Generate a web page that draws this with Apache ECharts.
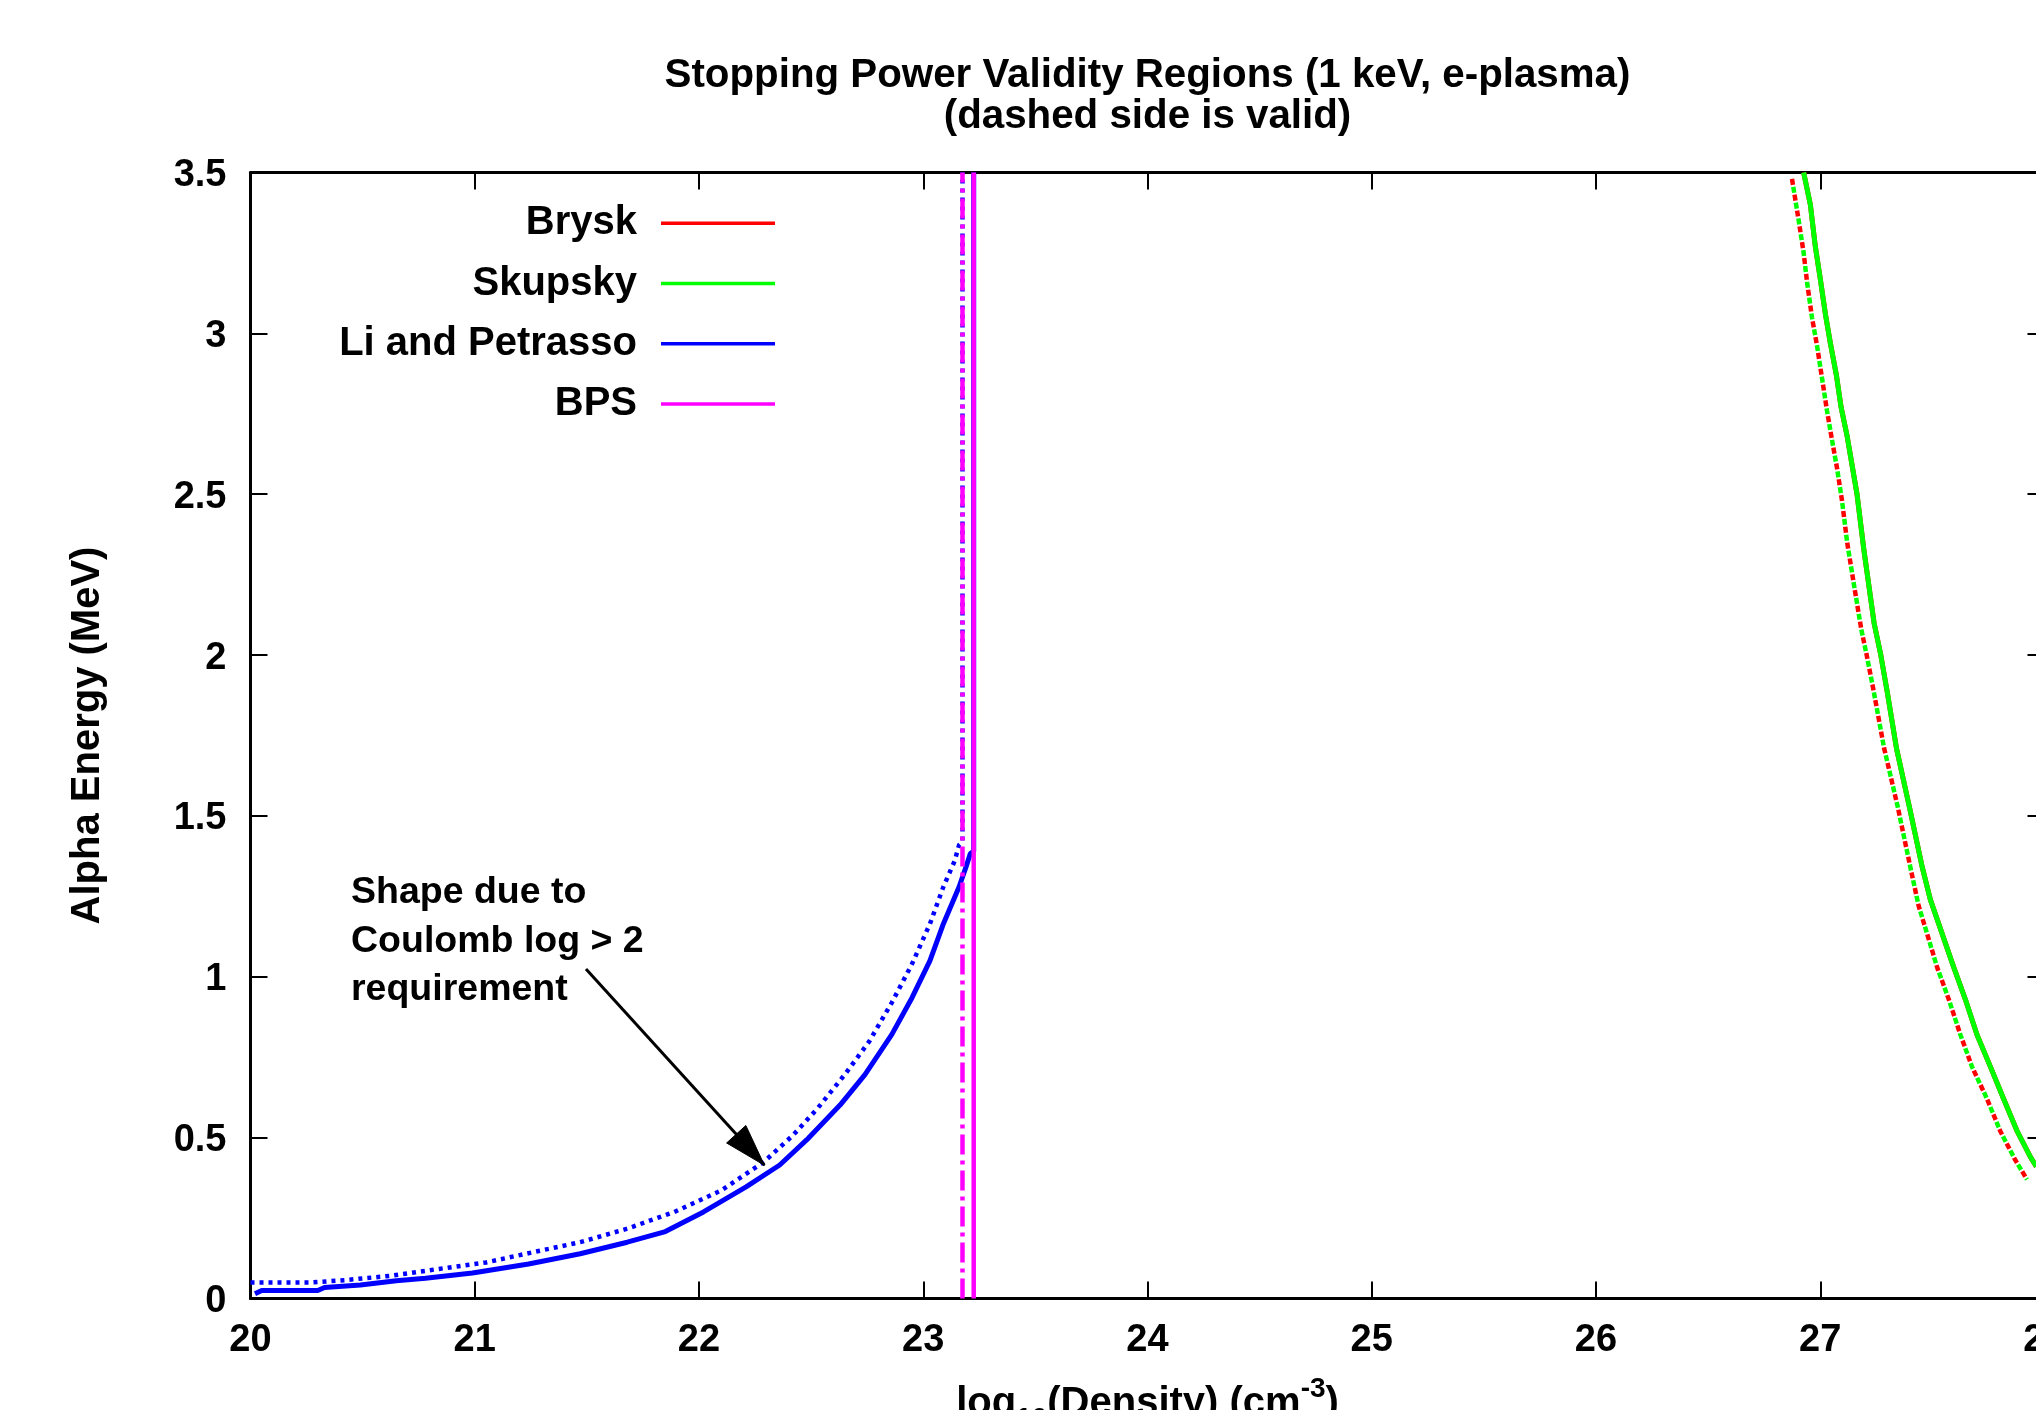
<!DOCTYPE html>
<html>
<head>
<meta charset="utf-8">
<script src="https://cdn.jsdelivr.net/npm/echarts@6/dist/echarts.min.js"></script>
<style>
html,body{margin:0;padding:0;background:#ffffff;}
#chart{width:2036px;height:1410px;}
</style>
</head>
<body>
<div id="chart"></div>
<script>
// ---------------- data ----------------
const legendNames = ['Brysk', 'Skupsky', 'Li and Petrasso', 'BPS'];

// x axis: log10(density), y axis: alpha energy (MeV)
const xMin = 20, xMax = 28, xStep = 1;
const yMin = 0, yMax = 3.5, yStep = 0.5;

// Brysk and Skupsky boundaries coincide (Skupsky drawn on top)
const bryskSkupskyEdge = [
  [26.926, 3.50], [26.956, 3.40], [26.978, 3.27], [27.000, 3.17], [27.023, 3.06],
  [27.045, 2.97], [27.072, 2.87], [27.093, 2.77], [27.120, 2.68], [27.142, 2.59],
  [27.164, 2.50], [27.194, 2.33], [27.240, 2.10], [27.270, 2.00], [27.300, 1.88],
  [27.340, 1.71], [27.400, 1.52], [27.455, 1.34], [27.491, 1.24], [27.543, 1.135],
  [27.595, 1.03], [27.647, 0.93], [27.699, 0.82], [27.759, 0.72], [27.818, 0.62],
  [27.878, 0.52], [27.937, 0.44], [27.964, 0.41]
];
const bryskSkupskyValid = [
  [26.874, 3.48], [26.904, 3.35], [26.926, 3.25], [26.941, 3.16], [26.963, 3.05],
  [26.986, 2.96], [27.008, 2.86], [27.030, 2.76], [27.052, 2.67], [27.075, 2.58],
  [27.097, 2.48], [27.120, 2.35], [27.150, 2.22], [27.183, 2.08], [27.207, 2.00],
  [27.235, 1.90], [27.285, 1.71], [27.345, 1.53], [27.405, 1.33], [27.439, 1.22],
  [27.476, 1.135], [27.521, 1.03], [27.573, 0.93], [27.625, 0.82], [27.677, 0.72],
  [27.744, 0.62], [27.803, 0.52], [27.870, 0.43], [27.922, 0.37]
];

const liPetrassoEdge = [
  [20.02, 0.015], [20.05, 0.025], [20.30, 0.025], [20.33, 0.034], [20.49, 0.042],
  [20.65, 0.055], [20.78, 0.063], [20.99, 0.079], [21.24, 0.107], [21.47, 0.139],
  [21.68, 0.175], [21.85, 0.208], [22.02, 0.269], [22.21, 0.347], [22.36, 0.415],
  [22.48, 0.493], [22.63, 0.602], [22.74, 0.696], [22.86, 0.821], [22.95, 0.935],
  [23.03, 1.05], [23.09, 1.165], [23.16, 1.28], [23.19, 1.34], [23.21, 1.383],
  [23.225, 1.39], [23.225, 3.50]
];
const liPetrassoValid = [
  [20.00, 0.050], [20.27, 0.050], [20.42, 0.057], [20.63, 0.071], [20.84, 0.092],
  [21.05, 0.112], [21.26, 0.144], [21.47, 0.175], [21.68, 0.217], [21.89, 0.269],
  [22.10, 0.336], [22.29, 0.425], [22.42, 0.508], [22.53, 0.592], [22.65, 0.696],
  [22.76, 0.800], [22.86, 0.920], [22.95, 1.040], [23.03, 1.165], [23.09, 1.280],
  [23.14, 1.360], [23.16, 1.410], [23.175, 1.42], [23.175, 3.50]
];

const bpsEdge = [[23.225, 0.0], [23.225, 3.5]];
const bpsValid = [[23.175, 0.0], [23.175, 3.5]];

// annotation arrow (data coordinates)
const arrowFrom = [21.496, 1.024];
const arrowTo = [22.292, 0.414];
const noteText = 'Shape due to\nCoulomb log > 2\nrequirement';

const titleText = 'Stopping Power Validity Regions (1 keV, e-plasma)\n(dashed side is valid)';
const xName = 'log{sub|10}(Density) (cm{sup|-3})';
const yName = 'Alpha Energy (MeV)';

// ---------------- styles ----------------
const FONT = "'Liberation Sans', Arial, Helvetica, sans-serif";
const RED = '#ff0000', GREEN = '#00ff00', BLUE = '#0000ff', MAGENTA = '#ff00ff';

function lineSeries(name, data, color, width, type, extra) {
  return Object.assign({
    name: name,
    type: 'line',
    data: data,
    showSymbol: false,
    symbol: 'none',
    color: color,
    itemStyle: { color: color },
    lineStyle: { color: color, width: width, type: type },
    silent: true,
    clip: true,
    animation: false
  }, extra || {});
}

const axisLineStyle = { show: true, onZero: false, lineStyle: { color: '#000', width: 3 } };
const axisTickStyle = { show: true, inside: true, length: 17, lineStyle: { color: '#000', width: 2 } };

const chart = echarts.init(document.getElementById('chart'), null, { renderer: 'canvas' });

const noteGraphic = {
  id: 'note', type: 'text', x: 351, y: 868.5, silent: true,
  style: {
    text: noteText, fill: '#000', fontFamily: FONT, fontSize: 37.5, fontWeight: 'bold',
    lineHeight: 48.6, align: 'left', verticalAlign: 'top'
  }
};

const option = {
  animation: false,
  backgroundColor: '#ffffff',
  textStyle: { fontFamily: FONT },
  title: {
    text: titleText,
    left: 1147.5,
    top: 55.5,
    padding: 0,
    textAlign: 'center',
    textVerticalAlign: 'top',
    textStyle: { fontFamily: FONT, fontSize: 40.3, fontWeight: 'bold', color: '#000', lineHeight: 41 }
  },
  legend: {
    data: legendNames,
    orient: 'vertical',
    align: 'right',
    left: 337,
    top: 203.2,
    padding: 0,
    itemGap: 20.3,
    itemWidth: 114,
    itemHeight: 3.5,
    icon: 'rect',
    selectedMode: false,
    itemStyle: { borderWidth: 0 },
    textStyle: {
      fontFamily: FONT, fontSize: 40, fontWeight: 'bold', color: '#000',
      lineHeight: 40, width: 300, padding: [0, 19, 0, 0]
    }
  },
  grid: {
    left: 250.5,
    top: 172.5,
    width: 1794,
    height: 1126,
    containLabel: false,
    outerBoundsMode: 'none'
  },
  xAxis: [
    {
      type: 'value', min: xMin, max: xMax, interval: xStep, position: 'bottom',
      axisLine: axisLineStyle, axisTick: axisTickStyle,
      axisLabel: { fontFamily: FONT, fontSize: 38, fontWeight: 'bold', color: '#000', margin: 23.5 },
      splitLine: { show: false },
      name: xName, nameLocation: 'middle', nameGap: 76.5,
      nameTextStyle: {
        fontFamily: FONT, fontSize: 40, fontWeight: 'bold', color: '#000',
        rich: {
          sub: { fontFamily: FONT, fontSize: 28, fontWeight: 'bold', color: '#000', padding: [30, 0, 0, 0] },
          sup: { fontFamily: FONT, fontSize: 28, fontWeight: 'bold', color: '#000', padding: [0, 0, 30, 0] }
        }
      }
    },
    {
      type: 'value', min: xMin, max: xMax, interval: xStep, position: 'top',
      axisLine: axisLineStyle, axisTick: axisTickStyle,
      axisLabel: { show: false }, splitLine: { show: false }
    }
  ],
  yAxis: [
    {
      type: 'value', min: yMin, max: yMax, interval: yStep, position: 'left',
      axisLine: axisLineStyle, axisTick: axisTickStyle,
      axisLabel: {
        fontFamily: FONT, fontSize: 38, fontWeight: 'bold', color: '#000', margin: 24,
        formatter: '{v|{value}}',
        rich: { v: { fontFamily: FONT, fontSize: 38, fontWeight: 'bold', color: '#000', padding: [6, 0, 0, 0] } }
      },
      splitLine: { show: false },
      name: yName, nameLocation: 'middle', nameRotate: 90, nameGap: 142.5,
      nameTextStyle: { fontFamily: FONT, fontSize: 40, fontWeight: 'bold', color: '#000' }
    },
    {
      type: 'value', min: yMin, max: yMax, interval: yStep, position: 'right',
      axisLine: axisLineStyle, axisTick: axisTickStyle,
      axisLabel: { show: false }, splitLine: { show: false }
    }
  ],
  graphic: [noteGraphic],
  series: [
    lineSeries('Brysk', bryskSkupskyEdge, RED, 5, 'solid'),
    lineSeries('Brysk', bryskSkupskyValid, RED, 4.5, [6, 10]),
    lineSeries('Skupsky', bryskSkupskyEdge, GREEN, 5, 'solid'),
    lineSeries('Skupsky', bryskSkupskyValid, GREEN, 4.5, [6, 10], { lineStyle: { color: GREEN, width: 4.5, type: [6, 10], dashOffset: 8 } }),
    lineSeries('Li and Petrasso', liPetrassoEdge, BLUE, 5, 'solid', {
      markLine: {
        silent: true,
        animation: false,
        symbol: ['none', 'none'],
        label: { show: false },
        emphasis: { disabled: true },
        lineStyle: { color: '#000', width: 3, type: 'solid' },
        data: [[{ coord: arrowFrom }, { coord: arrowTo }]]
      }
    }),
    lineSeries('Li and Petrasso', liPetrassoValid, BLUE, 4.5, [4, 5]),
    lineSeries('BPS', bpsEdge, MAGENTA, 4.5, 'solid'),
    lineSeries('BPS', bpsValid, MAGENTA, 4.5, [20, 6, 4, 6])
  ]
};

chart.setOption(option);

// filled arrowhead at the tip of the annotation arrow, placed through the axes
const pFrom = chart.convertToPixel({ xAxisIndex: 0, yAxisIndex: 0 }, arrowFrom);
const pTo = chart.convertToPixel({ xAxisIndex: 0, yAxisIndex: 0 }, arrowTo);
const dx = pTo[0] - pFrom[0], dy = pTo[1] - pFrom[1];
const len = Math.sqrt(dx * dx + dy * dy);
const ux = dx / len, uy = dy / len;
const headLen = 42, headHalf = 13;
const bx = pTo[0] - ux * headLen, by = pTo[1] - uy * headLen;
chart.setOption({
  graphic: [
    noteGraphic,
    {
      id: 'arrowHead', type: 'polygon', silent: true, z: 100,
      shape: { points: [
        [pTo[0], pTo[1]],
        [bx - uy * headHalf, by + ux * headHalf],
        [bx + uy * headHalf, by - ux * headHalf]
      ] },
      style: { fill: '#000', stroke: '#000', lineWidth: 1 }
    }
  ]
});
</script>
</body>
</html>
